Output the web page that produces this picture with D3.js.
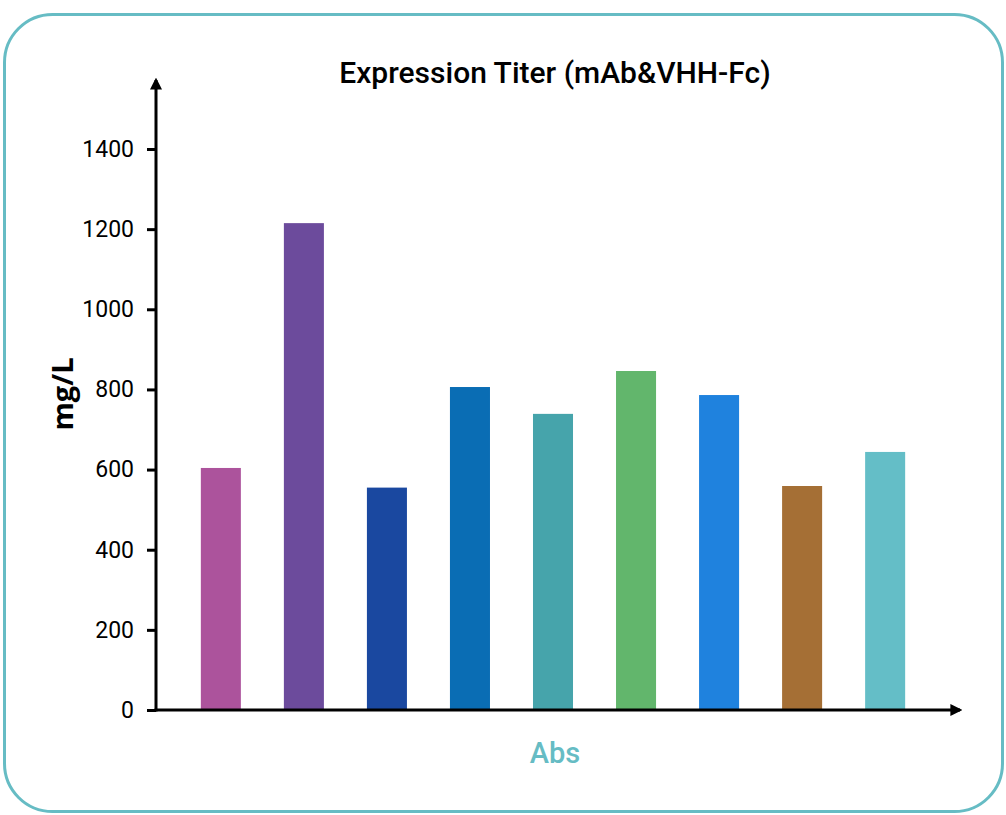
<!DOCTYPE html>
<html>
<head>
<meta charset="utf-8">
<script src="https://cdn.jsdelivr.net/npm/d3@7"></script>
<style>
  body { margin: 0; background: #fff; }
  svg { display: block; }
</style>
</head>
<body>
<svg id="chart" width="1006" height="815"></svg>
<script>
const categories = ['Ab1', 'Ab2', 'Ab3', 'Ab4', 'Ab5', 'Ab6', 'Ab7', 'Ab8', 'Ab9'];
const titers = [604, 1215, 555, 806, 739, 846, 786, 559, 644];
const barColors = [
  '#ac539c', '#6c4b9c', '#1a48a0', '#0a6db4', '#46a4ab',
  '#62b66c', '#1f82de', '#a56f35', '#64bec7',
];
const yTicks = [0, 200, 400, 600, 800, 1000, 1200, 1400];

const svg = d3.select('#chart');
const x0 = 156;
const y0 = 710;

// rounded frame
svg.append('rect')
  .attr('x', 4.5).attr('y', 14.5)
  .attr('width', 998).attr('height', 797)
  .attr('rx', 48).attr('ry', 48)
  .attr('fill', '#fff')
  .attr('stroke', '#66bcc4')
  .attr('stroke-width', 3);

const x = d3.scaleBand()
  .domain(categories)
  .range([x0, 950])
  .paddingInner(0.518)
  .paddingOuter(0.54);

const y = d3.scaleLinear()
  .domain([0, 1400])
  .range([y0, 149]);

svg.selectAll('.bar')
  .data(titers)
  .enter()
  .append('rect')
  .attr('class', 'bar')
  .attr('x', (d, i) => x(categories[i]))
  .attr('y', (d) => y(d))
  .attr('width', x.bandwidth())
  .attr('height', (d) => y0 - y(d))
  .attr('fill', (d, i) => barColors[i]);

const yAxis = d3.axisLeft(y)
  .tickValues(yTicks)
  .tickSize(9)
  .tickPadding(13)
  .tickFormat(d3.format('d'));

const gy = svg.append('g')
  .attr('transform', `translate(${x0},0)`)
  .call(yAxis);
gy.select('.domain').remove();
gy.selectAll('.tick line').attr('stroke', '#000').attr('stroke-width', 3);
gy.selectAll('.tick text')
  .attr('fill', '#000')
  .style('font-family', 'Roboto, sans-serif')
  .style('font-size', '23px');

// axis lines with arrows
svg.append('defs').append('marker')
  .attr('id', 'arrow')
  .attr('viewBox', '0 0 10 10')
  .attr('refX', 8).attr('refY', 5)
  .attr('markerWidth', 4).attr('markerHeight', 4)
  .attr('markerUnits', 'strokeWidth')
  .attr('orient', 'auto')
  .append('path')
  .attr('d', 'M0,0 L10,5 L0,10 Z')
  .attr('fill', '#000');

svg.append('line')
  .attr('x1', x0).attr('y1', y0 + 1.5)
  .attr('x2', x0).attr('y2', 80)
  .attr('stroke', '#000').attr('stroke-width', 3)
  .attr('marker-end', 'url(#arrow)');

svg.append('line')
  .attr('x1', x0 - 1.5).attr('y1', y0)
  .attr('x2', 960).attr('y2', y0)
  .attr('stroke', '#000').attr('stroke-width', 3)
  .attr('marker-end', 'url(#arrow)');

svg.append('text')
  .attr('x', 555).attr('y', 83)
  .attr('text-anchor', 'middle')
  .style('font-family', 'Roboto, sans-serif')
  .style('font-weight', 500)
  .style('font-size', '30px')
  .attr('fill', '#000')
  .text('Expression Titer (mAb&VHH-Fc)');

svg.append('text')
  .attr('transform', 'translate(73,394) rotate(-90)')
  .attr('text-anchor', 'middle')
  .style('font-family', '"Open Sans", sans-serif')
  .style('font-weight', 700)
  .style('font-size', '29px')
  .attr('fill', '#000')
  .text('mg/L');

svg.append('text')
  .attr('x', 555).attr('y', 763)
  .attr('text-anchor', 'middle')
  .style('font-family', 'Roboto, sans-serif')
  .style('font-weight', 500)
  .style('font-size', '29px')
  .attr('fill', '#66bcc4')
  .text('Abs');
</script>
</body>
</html>
